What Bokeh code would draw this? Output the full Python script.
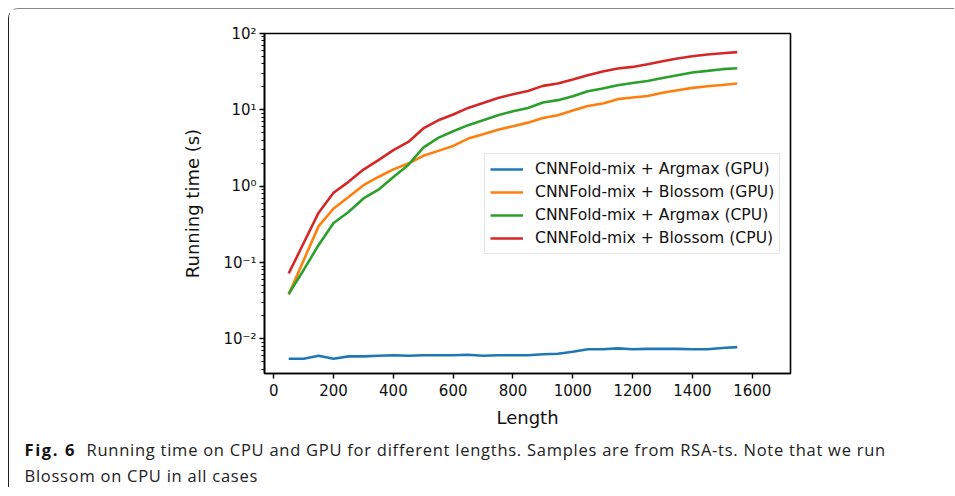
from bokeh.plotting import figure
from bokeh.layouts import column
from bokeh.models import Range1d, FixedTicker, CustomJSTickFormatter, Div
from bokeh.embed import file_html
from bokeh.resources import INLINE

# ---------------- data ----------------
lengths = [50, 100, 150, 200, 250, 300, 350, 400, 450, 500, 550, 600, 650, 700, 750, 800,
           850, 900, 950, 1000, 1050, 1100, 1150, 1200, 1250, 1300, 1350, 1400, 1450, 1500, 1550]

gpu_argmax = [0.0055, 0.0055, 0.0060, 0.0055, 0.0059, 0.0059, 0.0060, 0.0061, 0.0060, 0.0061,
              0.0061, 0.0061, 0.0062, 0.0060, 0.0061, 0.0061, 0.0061, 0.0063, 0.0064, 0.0068,
              0.0073, 0.0073, 0.0075, 0.0073, 0.0074, 0.0074, 0.0074, 0.0073, 0.0073, 0.0076,
              0.0078]
gpu_blossom = [0.038, 0.107, 0.30, 0.51, 0.72, 1.03, 1.32, 1.66, 1.98, 2.5, 2.9, 3.37, 4.2, 4.8,
               5.5, 6.1, 6.8, 7.8, 8.5, 9.8, 11.2, 12.1, 13.8, 14.5, 15.2, 16.7, 18.1, 19.4,
               20.4, 21.2, 22.1]
cpu_argmax = [0.039, 0.08, 0.17, 0.33, 0.46, 0.69, 0.9, 1.32, 1.9, 3.2, 4.3, 5.25, 6.3, 7.3,
              8.5, 9.6, 10.6, 12.5, 13.4, 15.1, 17.5, 19.0, 21.0, 22.5, 23.9, 26.2, 28.4, 30.8,
              32.4, 34.1, 35.1]
cpu_blossom = [0.072, 0.18, 0.45, 0.82, 1.14, 1.65, 2.2, 2.96, 3.8, 5.7, 7.3, 8.7, 10.6, 12.3,
               14.3, 16.0, 17.7, 20.6, 22.1, 25.0, 28.4, 31.8, 34.8, 36.5, 39.6, 43.4, 47.0,
               50.4, 53.0, 55.2, 57.0]

series_labels = ["CNNFold-mix + Argmax (GPU)", "CNNFold-mix + Blossom (GPU)",
                 "CNNFold-mix + Argmax (CPU)", "CNNFold-mix + Blossom (CPU)"]
series_colors = ["#1f77b4", "#ff7f0e", "#2ca02c", "#d62728"]

x_ticks = [0, 200, 400, 600, 800, 1000, 1200, 1400, 1600]
y_ticks = [0.01, 0.1, 1, 10, 100]
y_tick_labels = ["10\u207b\u00b2", "10\u207b\u00b9", "10\u2070", "10\u00b9", "10\u00b2"]
y_minor_ticks = [m * 10.0 ** e for e in range(-3, 2) for m in range(2, 10)]

x_label = "Length"
y_label = "Running time (s)"
caption_bold = "Fig. 6"
caption_line1 = "Running time on CPU and GPU for different lengths. Samples are from RSA-ts. Note that we run"
caption_line2 = "Blossom on CPU in all cases"

# ---------------- main figure ----------------
W = 935
H_MAIN = 428
H_CAP = 50
p = figure(width=W, height=H_MAIN, y_axis_type="log",
           x_range=Range1d(-31, 1728), y_range=Range1d(0.00352, 100),
           output_backend="svg", toolbar_location=None,
           min_border_left=255, min_border_right=W - 255 - 526,
           min_border_top=24, min_border_bottom=H_MAIN - 24 - 340)
p.title.visible = False
p.grid.visible = False
p.background_fill_color = "white"
p.border_fill_color = "white"
p.outline_line_color = "black"
p.outline_line_width = 1.6
p.outline_line_alpha = 1.0

for ys, lab, col in zip([gpu_argmax, gpu_blossom, cpu_argmax, cpu_blossom], series_labels, series_colors):
    p.line(lengths, ys, line_color=col, line_width=2.6, legend_label=lab)

# axes
p.xaxis.ticker = FixedTicker(ticks=x_ticks)
p.yaxis.ticker = FixedTicker(ticks=y_ticks, minor_ticks=y_minor_ticks)
p.yaxis.formatter = CustomJSTickFormatter(args=dict(vals=y_ticks, labels=y_tick_labels), code="""
    for (let i = 0; i < vals.length; i++) {
        if (Math.abs(Math.log10(vals[i]) - Math.log10(tick)) < 1e-6) return labels[i];
    }
    return "";
""")
for ax in [p.xaxis[0], p.yaxis[0]]:
    ax.axis_line_color = "black"
    ax.axis_line_width = 1.6
    ax.major_tick_line_color = "black"
    ax.major_tick_line_width = 1.4
    ax.minor_tick_line_color = "black"
    ax.minor_tick_line_width = 1.1
    ax.major_tick_out = 5
    ax.major_tick_in = 0
    ax.minor_tick_out = 3
    ax.minor_tick_in = 0
    ax.major_label_text_font = "DejaVu Sans"
    ax.major_label_text_font_size = "15px"
    ax.major_label_text_color = "#111111"
    ax.axis_label_text_font = "DejaVu Sans"
    ax.axis_label_text_font_size = "18px"
    ax.axis_label_text_font_style = "normal"
    ax.axis_label_text_color = "#111111"

p.xaxis.axis_label = x_label
p.yaxis.axis_label = y_label
p.xaxis.minor_tick_line_color = None
p.xaxis.major_label_standoff = 5
p.xaxis.axis_label_standoff = 8
p.yaxis.major_label_standoff = 3
p.yaxis.axis_label_standoff = 17

# legend
lg = p.legend[0]
lg.location = (220, 119)
lg.margin = 0
lg.padding = 5
lg.spacing = 3
lg.glyph_width = 33
lg.glyph_height = 20
lg.label_height = 20
lg.label_standoff = 12
lg.label_text_font = "DejaVu Sans"
lg.label_text_font_size = "15.6px"
lg.label_text_color = "#111111"
lg.border_line_color = "#cccccc"
lg.border_line_width = 1
lg.background_fill_color = "white"
lg.background_fill_alpha = 0.8

# ---------------- caption ----------------
caption_html = (
    '<div style="font-family: \'Open Sans\', sans-serif; font-size: 16.5px; line-height: 26px; '
    'letter-spacing: 0.75px; color: #222222; white-space: nowrap; padding-left: 15.5px; margin: 0;">'
    '<span style="display: inline-block; width: 62px; font-weight: bold; letter-spacing: 1.6px; '
    'color: #111111;">' + caption_bold + '</span>' + caption_line1 + '<br>' + caption_line2 + '</div>'
)
cap = Div(text=caption_html, width=W, height=H_CAP, margin=0)

layout = column(p, cap, spacing=0,
                styles={"margin-left": "8px", "margin-top": "8px",
                        "padding-right": "10px",
                        "border-left": "1.5px solid #222222",
                        "border-top": "1.5px solid #888888",
                        "border-top-left-radius": "10px"})

open("out.html", "w").write(file_html(layout, INLINE))
